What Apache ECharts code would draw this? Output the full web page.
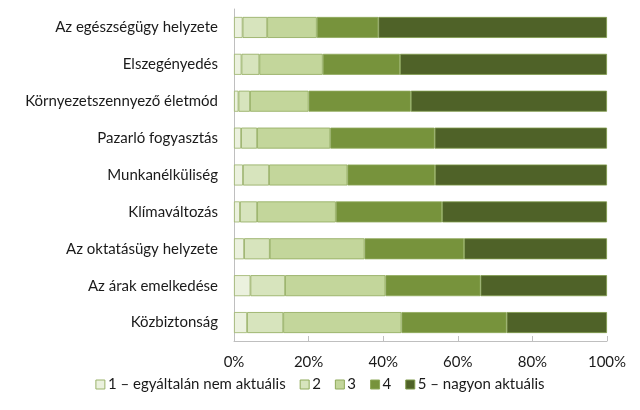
<!DOCTYPE html>
<html>
<head>
<meta charset="utf-8">
<script src="https://cdn.jsdelivr.net/npm/echarts@6/dist/echarts.min.js"></script>
<style>
html,body{margin:0;padding:0;background:#fff;}
#chart{width:640px;height:410px;}
</style>
</head>
<body>
<div id="chart"></div>
<script>
var categories = ["Az egészségügy helyzete","Elszegényedés","Környezetszennyező életmód","Pazarló fogyasztás","Munkanélküliség","Klímaváltozás","Az oktatásügy helyzete","Az árak emelkedése","Közbiztonság"];
var seriesNames = ["1 – egyáltalán nem aktuális","2","3","4","5 – nagyon aktuális"];
var s1 = [2.3, 2.0, 1.2, 1.9, 2.4, 1.6, 2.7, 4.4, 3.5];
var s2 = [6.6, 4.8, 3.1, 4.3, 7.0, 4.6, 6.9, 9.3, 9.7];
var s3 = [13.3, 17.0, 15.7, 19.6, 21.0, 21.1, 25.4, 26.9, 31.7];
var s4 = [16.5, 20.7, 27.4, 28.0, 23.5, 28.5, 26.7, 25.5, 28.2];
var s5 = [61.3, 55.5, 52.6, 46.2, 46.1, 44.2, 38.3, 33.9, 26.9];
var xTicks = [0, 20, 40, 60, 80, 100];

var colors = ["#ebf1de","#d7e4bd","#c3d69b","#77933c","#4f6228"];
var borders = ["#9bb36a","#8faa5a","#8faa5a","#8faa5a","#7f9a4a"];
var dataSets = [s1, s2, s3, s4, s5];

var chart = echarts.init(document.getElementById('chart'), null, {renderer:'canvas'});
var font = "Lato, 'Open Sans', sans-serif";
var series = dataSets.map(function(d, i){
  return {
    name: seriesNames[i],
    type: 'bar',
    stack: 'total',
    barWidth: 21,
    data: d,
    itemStyle: {color: colors[i], borderColor: borders[i], borderWidth: 0.8},
    emphasis: {disabled: true}
  };
});
chart.setOption({
  animation: false,
  textStyle: {fontFamily: font},
  grid: {left: 234, right: 33, top: 9, bottom: 69, containLabel: false},
  xAxis: {
    type: 'value', min: xTicks[0], max: xTicks[xTicks.length-1], interval: 20,
    axisLine: {show: true, lineStyle: {color: '#bfbfbf', width: 1}},
    axisTick: {show: true, inside: true, length: 5, lineStyle: {color: '#bfbfbf'}},
    splitLine: {show: false},
    axisLabel: {formatter: '{value}%', color: '#1a1a1a', fontSize: 15, fontFamily: font, margin: 14}
  },
  yAxis: {
    type: 'category', data: categories, inverse: true,
    axisLine: {show: true, lineStyle: {color: '#bfbfbf', width: 1}},
    axisTick: {show: false},
    axisLabel: {color: '#1a1a1a', fontSize: 15, fontFamily: font, margin: 16}
  },
  legend: {
    data: seriesNames,
    bottom: 13, left: 'center',
    icon: 'rect', itemWidth: 9, itemHeight: 9, itemGap: 14,
    textStyle: {color: '#1a1a1a', fontSize: 15, fontFamily: font, padding: [0,0,0,-2]},
    itemStyle: {borderWidth: 1}
  },
  series: series
});
</script>
</body>
</html>
